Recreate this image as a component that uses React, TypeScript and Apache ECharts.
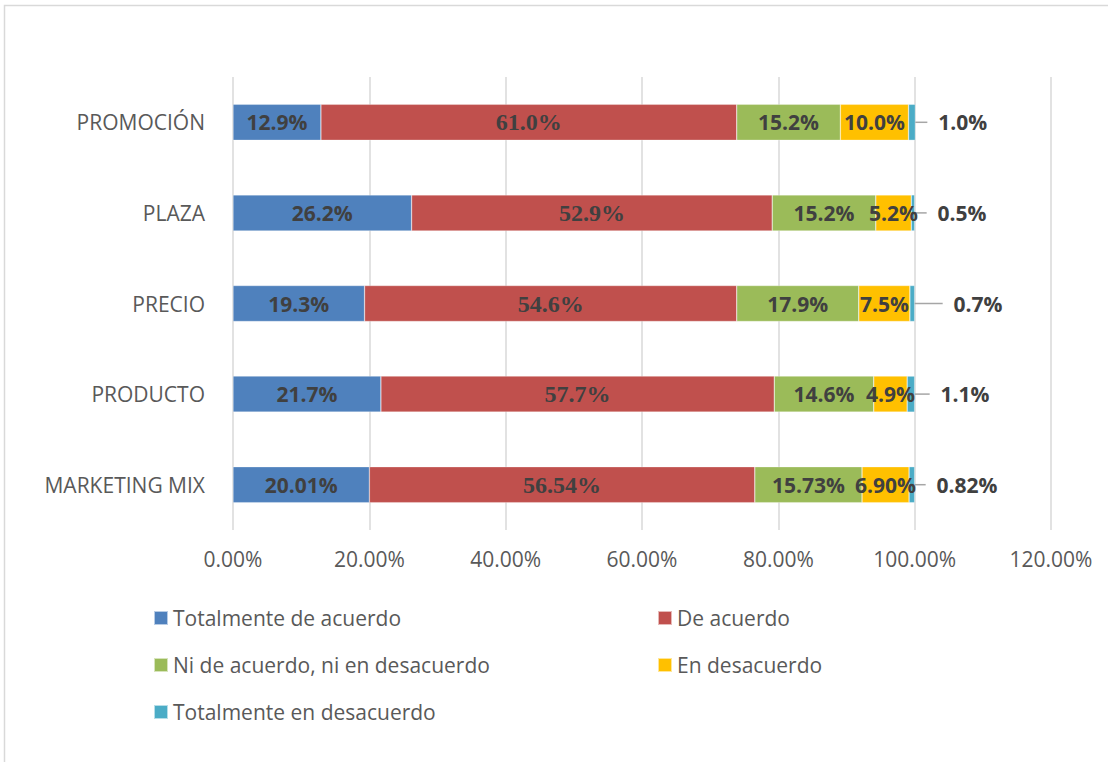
import React, { useEffect, useRef } from "react";
import * as echarts from "echarts";

const categories = ["MARKETING MIX", "PRODUCTO", "PRECIO", "PLAZA", "PROMOCIÓN"];
const decimals = [2, 1, 1, 1, 1];
const totalmenteDeAcuerdo = [20.01, 21.7, 19.3, 26.2, 12.9];
const deAcuerdo = [56.54, 57.7, 54.6, 52.9, 61.0];
const niNi = [15.73, 14.6, 17.9, 15.2, 15.2];
const enDesacuerdo = [6.9, 4.9, 7.5, 5.2, 10.0];
const totalmenteEnDesacuerdo = [0.82, 1.1, 0.7, 0.5, 1.0];
const seriesNames = [
  "Totalmente de acuerdo",
  "De acuerdo",
  "Ni de acuerdo, ni en desacuerdo",
  "En desacuerdo",
  "Totalmente en desacuerdo",
];
const colors = ["#4f81bd", "#c0504d", "#9bbb59", "#ffc000", "#4bacc6"];
const outsideLabelShift = [11, 15, 28, 12, 12];

const SANS = "'Open Sans', sans-serif";
const SERIF = "'Liberation Serif', 'Times New Roman', serif";

export default function App() {
  const ref = useRef<HTMLDivElement>(null);
  useEffect(() => {
    document.body.style.margin = "0";
    const chart = echarts.init(ref.current!, null, { renderer: "svg" });
    const fmt = (p: any) => Number(p.value).toFixed(decimals[p.dataIndex]) + "%";
    const dataSets = [totalmenteDeAcuerdo, deAcuerdo, niNi, enDesacuerdo, totalmenteEnDesacuerdo];
    const series: any[] = dataSets.map((d, i) => {
      const base: any = {
        name: seriesNames[i],
        type: "bar",
        stack: "total",
        data: d,
        barWidth: 36,
        itemStyle: { color: colors[i], borderColor: "rgba(255,255,255,0.6)", borderWidth: 0.5 },
        label: {
          show: true,
          position: "inside",
          formatter: fmt,
          color: "#404040",
          fontFamily: i === 1 ? SERIF : SANS,
          fontWeight: "bold",
          fontSize: i === 1 ? 24 : 21,
        },
      };
      if (i === 4) {
        base.label = {
          ...base.label,
          position: "right",
          distance: 0,
          formatter: (p: any) => "  " + fmt(p),
        };
        base.labelLayout = (params: any) => ({ dx: outsideLabelShift[params.dataIndex] });
        base.labelLine = { show: true, lineStyle: { color: "#a6a6a6", width: 1.5 } };
      }
      return base;
    });
    const legendText = { color: "#595959", fontSize: 21, fontFamily: SANS, lineHeight: 22 };
    chart.setOption({
      animation: false,
      color: colors,
      textStyle: { fontFamily: SANS },
      grid: { left: 233, right: 57, top: 77, bottom: 232, containLabel: false },
      xAxis: {
        type: "value",
        min: 0,
        max: 120,
        interval: 20,
        axisLine: { show: false },
        axisTick: { show: false },
        splitLine: { show: true, lineStyle: { color: "#d9d9d9", width: 1.5 } },
        axisLabel: {
          color: "#595959",
          fontSize: 21,
          fontFamily: SANS,
          margin: 18,
          formatter: (v: number) => v.toFixed(2) + "%",
        },
      },
      yAxis: {
        type: "category",
        data: categories,
        axisLine: { show: false },
        axisTick: { show: false },
        axisLabel: { color: "#595959", fontSize: 21, fontFamily: SANS, margin: 28 },
      },
      legend: [
        {
          data: [seriesNames[0], seriesNames[2], seriesNames[4]],
          orient: "vertical",
          left: 153,
          top: 607,
          padding: 0,
          itemWidth: 14,
          itemHeight: 14,
          itemGap: 25,
          icon: "rect",
          textStyle: legendText,
        },
        {
          data: [seriesNames[1], seriesNames[3]],
          orient: "vertical",
          left: 657,
          top: 607,
          padding: 0,
          itemWidth: 14,
          itemHeight: 14,
          itemGap: 25,
          icon: "rect",
          textStyle: legendText,
        },
      ],
      graphic: [
        {
          type: "rect",
          shape: { x: 4.5, y: 5.5, width: 1200, height: 900 },
          style: { fill: "none", stroke: "#d9d9d9", lineWidth: 1.5 },
          silent: true,
        },
      ],
      series,
    });
    return () => chart.dispose();
  }, []);
  return <div ref={ref} style={{ width: 1108, height: 762 }} />;
}
